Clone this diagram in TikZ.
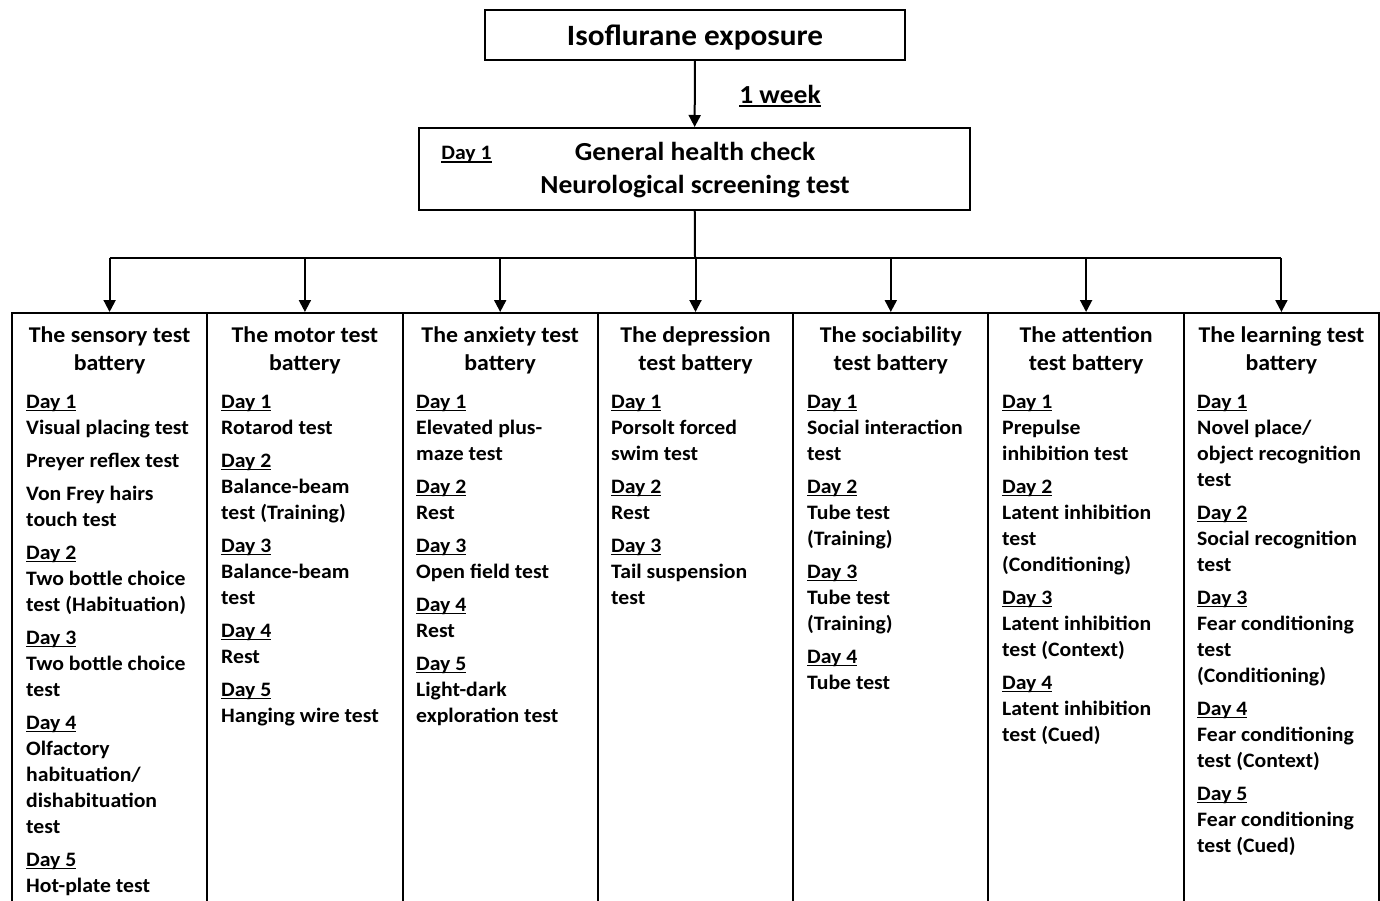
\documentclass[tikz,border=0pt]{standalone}
\usepackage{fontspec}
\setmainfont{Carlito}[FakeStretch=1.06]
\usetikzlibrary{arrows.meta}
\newcommand\dayline[1]{\setbox0=\hbox{#1}\rlap{\rule[-2.6pt]{\wd0}{1.6pt}}\box0}
\newcommand\tstrut{\rule{0pt}{17pt}}
\tikzset{
 boxnode/.style={draw, line width=2pt, inner sep=0pt},
 txt/.style={inner sep=0pt, anchor=base},
 colbox/.style={draw, line width=2pt, minimum width=195.3pt, minimum height=640pt, anchor=north, inner sep=0pt},
 ttl/.style={anchor=north, align=center, inner sep=0pt, font=\fontsize{22.5}{28}\selectfont\bfseries},
 bod/.style={anchor=north west, align=left, inner sep=0pt, font=\fontsize{20.5}{26}\selectfont\bfseries},
 arr/.style={line width=2pt, -{Triangle[length=12pt,width=12pt]}},
 ln/.style={line width=2pt}
}
\begin{document}
\begin{tikzpicture}[x=1pt,y=-1pt]
\useasboundingbox (0,0) rectangle (1380,901);
\clip (0,0) rectangle (1380,901);
% top boxes
\node[boxnode, minimum width=420pt, minimum height=50pt] (iso) at (695,35) {};
\node[txt, font=\fontsize{29.5}{34}\selectfont\bfseries] (isot) at (695,46) {Isoflurane exposure};
\node[boxnode, minimum width=551pt, minimum height=82pt] (health) at (694.5,169) {};
\node[txt, font=\fontsize{26}{32}\selectfont\bfseries] (h1) at (695,161) {General health check};
\node[txt, font=\fontsize{26}{32}\selectfont\bfseries] (h2) at (695,194) {Neurological screening test};
\node[txt, font=\fontsize{20.5}{24}\selectfont\bfseries] (hday) at (466.5,160) {\dayline{Day 1}};
\node[txt, font=\fontsize{26}{30}\selectfont\bfseries] (week) at (780,104) {\dayline{1 week}};
\draw[arr] (iso) -- (health);
% columns
\foreach \i/\cx in {1/109.6,2/304.9,3/500.2,4/695.5,5/890.8,6/1086.1,7/1281.4}{
  \node[colbox] (c\i) at (\cx,312) {};
}
\coordinate (bus) at (695,258);
\draw[ln] (health) -- (bus);
\draw[ln] (c1.north |- bus) -- (c7.north |- bus);
\foreach \i in {1,...,7}{
  \draw[arr] (c\i.north |- bus) -- (c\i.north);
}
% titles
\node[ttl] (t1) at (c1.north |- 0,325) {\tstrut The sensory test\\battery};
\node[ttl] (t2) at (c2.north |- 0,325) {\tstrut The motor test\\battery};
\node[ttl] (t3) at (c3.north |- 0,325) {\tstrut The anxiety test\\battery};
\node[ttl] (t4) at (c4.north |- 0,325) {\tstrut The depression\\test battery};
\node[ttl] (t5) at (c5.north |- 0,325) {\tstrut The sociability\\test battery};
\node[ttl] (t6) at (c6.north |- 0,325) {\tstrut The attention\\test battery};
\node[ttl] (t7) at (c7.north |- 0,325) {\tstrut The learning test\\battery};
% bodies
\node[bod] (b1) at (26,395) {\dayline{Day 1}\\Visual placing test\\[7pt]Preyer reflex test\\[7pt]Von Frey hairs\\touch test\\[7pt]\dayline{Day 2}\\Two bottle choice\\test (Habituation)\\[7pt]\dayline{Day 3}\\Two bottle choice\\test\\[7pt]\dayline{Day 4}\\Olfactory\\habituation/\\dishabituation\\test\\[7pt]\dayline{Day 5}\\Hot-plate test};
\node[bod] (b2) at (221,395) {\dayline{Day 1}\\Rotarod test\\[7pt]\dayline{Day 2}\\Balance-beam\\test (Training)\\[7pt]\dayline{Day 3}\\Balance-beam\\test\\[7pt]\dayline{Day 4}\\Rest\\[7pt]\dayline{Day 5}\\Hanging wire test};
\node[bod] (b3) at (416,395) {\dayline{Day 1}\\Elevated plus-\\maze test\\[7pt]\dayline{Day 2}\\Rest\\[7pt]\dayline{Day 3}\\Open field test\\[7pt]\dayline{Day 4}\\Rest\\[7pt]\dayline{Day 5}\\Light-dark\\exploration test};
\node[bod] (b4) at (611,395) {\dayline{Day 1}\\Porsolt forced\\swim test\\[7pt]\dayline{Day 2}\\Rest\\[7pt]\dayline{Day 3}\\Tail suspension\\test};
\node[bod] (b5) at (807,395) {\dayline{Day 1}\\Social interaction\\test\\[7pt]\dayline{Day 2}\\Tube test\\(Training)\\[7pt]\dayline{Day 3}\\Tube test\\(Training)\\[7pt]\dayline{Day 4}\\Tube test};
\node[bod] (b6) at (1002,395) {\dayline{Day 1}\\Prepulse\\inhibition test\\[7pt]\dayline{Day 2}\\Latent inhibition\\test\\(Conditioning)\\[7pt]\dayline{Day 3}\\Latent inhibition\\test (Context)\\[7pt]\dayline{Day 4}\\Latent inhibition\\test (Cued)};
\node[bod] (b7) at (1197,395) {\dayline{Day 1}\\Novel place/\\object recognition\\test\\[7pt]\dayline{Day 2}\\Social recognition\\test\\[7pt]\dayline{Day 3}\\Fear conditioning\\test\\(Conditioning)\\[7pt]\dayline{Day 4}\\Fear conditioning\\test (Context)\\[7pt]\dayline{Day 5}\\Fear conditioning\\test (Cued)};
\end{tikzpicture}
\end{document}
